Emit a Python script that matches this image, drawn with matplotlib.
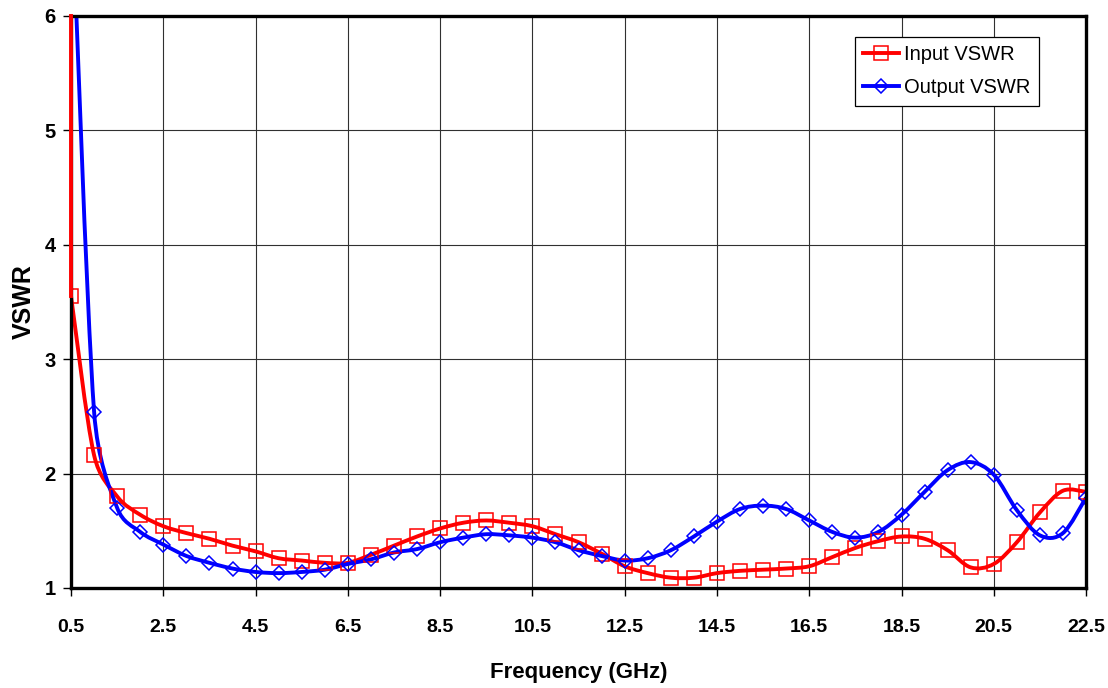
import numpy as np
import matplotlib
matplotlib.use("Agg")
import matplotlib.pyplot as plt
from matplotlib.path import Path
from matplotlib.patches import PathPatch
from matplotlib.lines import Line2D

plt.rcParams['font.family'] = ['Liberation Sans', 'DejaVu Sans']

# frequenze (GHz) e VSWR
freq = [0.5, 1.0, 1.5, 2.0, 2.5, 3.0, 3.5, 4.0, 4.5, 5.0, 5.5, 6.0, 6.5,
        7.0, 7.5, 8.0, 8.5, 9.0, 9.5, 10.0, 10.5, 11.0, 11.5, 12.0, 12.5,
        13.0, 13.5, 14.0, 14.5, 15.0, 15.5, 16.0, 16.5, 17.0, 17.5, 18.0, 18.5,
        19.0, 19.5, 20.0, 20.5, 21.0, 21.5, 22.0, 22.5]
input_vswr = [3.55, 2.16, 1.80, 1.64, 1.54, 1.48, 1.43, 1.37, 1.32, 1.26, 1.24, 1.22, 1.22,
              1.29, 1.37, 1.45, 1.52, 1.57, 1.59, 1.57, 1.54, 1.47, 1.40, 1.30, 1.19,
              1.13, 1.09, 1.09, 1.13, 1.15, 1.16, 1.17, 1.19, 1.27, 1.35, 1.41, 1.45,
              1.43, 1.33, 1.18, 1.21, 1.40, 1.66, 1.85, 1.84]
output_vswr = [7.2, 2.54, 1.70, 1.49, 1.38, 1.28, 1.22, 1.17, 1.14, 1.13, 1.14, 1.16, 1.21,
               1.25, 1.31, 1.34, 1.40, 1.44, 1.47, 1.46, 1.44, 1.40, 1.33, 1.28, 1.24,
               1.26, 1.33, 1.45, 1.58, 1.69, 1.72, 1.69, 1.59, 1.49, 1.44, 1.49, 1.64,
               1.84, 2.03, 2.10, 1.99, 1.68, 1.46, 1.48, 1.79]
x_ticks = [0.5, 2.5, 4.5, 6.5, 8.5, 10.5, 12.5, 14.5, 16.5, 18.5, 20.5, 22.5]
y_ticks = [1, 2, 3, 4, 5, 6]

RED = '#FF0000'
BLUE = '#0000FF'
LW = 2.8


def smooth_path(ax, xs, ys):
    # curva tipo "linea smussata" di Excel, calcolata in coordinate schermo
    pts = ax.transData.transform(np.column_stack([xs, ys]))
    n = len(pts)
    verts = [pts[0]]
    codes = [Path.MOVETO]
    f = 1.0 / 6.0
    for i in range(n - 1):
        p0 = pts[i - 1] if i > 0 else pts[i]
        p1 = pts[i]
        p2 = pts[i + 1]
        p3 = pts[i + 2] if i + 2 < n else pts[i + 1]
        d12 = np.hypot(*(p2 - p1))
        d02 = np.hypot(*(p2 - p0))
        d13 = np.hypot(*(p3 - p1))
        k1 = f if d02 * f <= d12 / 2 else d12 / 2 / d02
        k2 = f if d13 * f <= d12 / 2 else d12 / 2 / d13
        c1 = p1 + (p2 - p0) * k1
        c2 = p2 - (p3 - p1) * k2
        verts += [c1, c2, p2]
        codes += [Path.CURVE4] * 3
    data_verts = ax.transData.inverted().transform(np.array(verts))
    return Path(data_verts, codes)


fig = plt.figure(figsize=(11.08, 6.88), dpi=100)
ax = fig.add_axes([0.0641, 0.14535, 0.9161, 0.8318])
ax.set_xlim(0.5, 22.5)
ax.set_ylim(1, 6)

for series, col in [(input_vswr, RED), (output_vswr, BLUE)]:
    patch = PathPatch(smooth_path(ax, freq, series), facecolor='none',
                      edgecolor=col, lw=LW, zorder=3, transform=ax.transData)
    ax.add_patch(patch)

# la traccia di ingresso sale fuori scala a 0.5 GHz
ax.plot([freq[0], freq[0]], [input_vswr[0], ax.get_ylim()[1]], color=RED,
        lw=LW, zorder=6, clip_on=False)

ax.plot(freq, input_vswr, ls='none', marker='s', ms=10.3, mfc='none',
        mec=RED, mew=1.1, zorder=4)
ax.plot(freq, output_vswr, ls='none', marker='D', ms=7.4, mfc='none',
        mec=BLUE, mew=1.1, zorder=4)

ax.set_xticks(x_ticks)
ax.set_yticks(y_ticks)
ax.set_xticklabels([f"{t:g}" for t in x_ticks], fontsize=14, fontweight='bold')
ax.set_yticklabels([str(t) for t in y_ticks], fontsize=14.5, fontweight='bold')
ax.tick_params(axis='x', direction='out', length=6, width=1, pad=16, color='black')
ax.tick_params(axis='y', direction='out', length=6, width=1, pad=5, color='black')
ax.grid(True, color='#303030', lw=0.8)
ax.set_axisbelow(True)
for s in ax.spines.values():
    s.set_linewidth(2.4)
    s.set_color('black')
    s.set_zorder(5)

ax.set_xlabel('Frequency (GHz)', fontsize=16, fontweight='bold')
ax.xaxis.set_label_coords(0.5, -0.13)
ax.set_ylabel('VSWR', fontsize=18, fontweight='bold')
ax.yaxis.set_label_coords(-0.035, 0.5)

handles = [
    Line2D([], [], color=RED, lw=LW, marker='s', ms=10.3, mfc='none', mec=RED, mew=1.1),
    Line2D([], [], color=BLUE, lw=LW, marker='D', ms=7.4, mfc='none', mec=BLUE, mew=1.1),
]
leg = ax.legend(handles, ['Input VSWR', 'Output VSWR'], loc='upper right',
                bbox_to_anchor=(0.9535, 0.963), borderaxespad=0, fontsize=14.5,
                frameon=True, fancybox=False, framealpha=1, edgecolor='black',
                handlelength=1.8, handletextpad=0.25, labelspacing=0.72,
                borderpad=0.4)
leg.get_frame().set_linewidth(0.9)
leg.set_zorder(6)

fig.savefig('out.png', dpi=100)
